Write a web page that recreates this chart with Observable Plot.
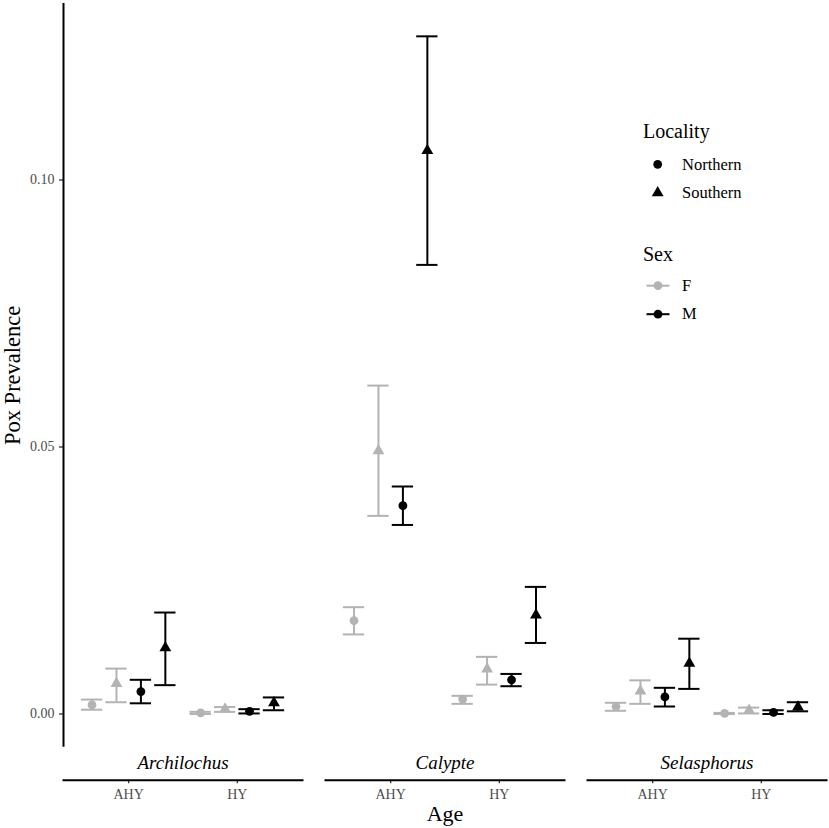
<!DOCTYPE html>
<html><head><meta charset="utf-8">
<script src="https://cdn.jsdelivr.net/npm/d3@7"></script>
<script src="https://cdn.jsdelivr.net/npm/@observablehq/plot@0.6"></script>
<style>
html,body{margin:0;padding:0;background:#fff;}
#wrap{position:relative;width:829px;height:828px;font-family:"Liberation Serif","Times New Roman",serif;}
#wrap > svg{display:block}
#legend{position:absolute;left:0;top:0;pointer-events:none;font-family:"Liberation Serif","Times New Roman",serif;}
</style></head><body><div id="wrap"></div>
<script>
const genera = ["Archilochus", "Calypte", "Selasphorus"];
const ages = ["AHY", "HY"];
const sexes = ["F", "M"];
const localities = ["Northern", "Southern"];
// order: genus > age > sex > locality  (F-N, F-S, M-N, M-S)
const estimate = [
  0.0017, 0.0057, 0.0042, 0.0124,   0.0002, 0.0009, 0.0005, 0.0021,
  0.0175, 0.0493, 0.0390, 0.1055,   0.0028, 0.0084, 0.0064, 0.0185,
  0.0014, 0.0043, 0.0032, 0.0095,   0.0001, 0.0007, 0.0003, 0.0013
];
const lower = [
  0.0008, 0.0022, 0.0020, 0.0054,   0.0000, 0.0004, 0.0001, 0.0007,
  0.0149, 0.0371, 0.0354, 0.0841,   0.0019, 0.0055, 0.0052, 0.0133,
  0.0006, 0.0019, 0.0014, 0.0047,   0.0000, 0.0001, 0.0000, 0.0005
];
const upper = [
  0.0027, 0.0085, 0.0064, 0.0190,   0.0004, 0.0013, 0.0009, 0.0031,
  0.0200, 0.0615, 0.0426, 0.1269,   0.0034, 0.0107, 0.0075, 0.0238,
  0.0021, 0.0063, 0.0049, 0.0141,   0.0002, 0.0012, 0.0007, 0.0022
];
const yTicks = [0, 0.05, 0.10];

const dodgeStep = 0.225;   // dodge width 0.9 / 4 groups
const capHalf = 0.098;
const xDomain = [0.4, 2.6];

const rows = [];
let i = 0;
for (const g of genera)
  for (const [ai, a] of ages.entries())
    for (const [si, s] of sexes.entries())
      for (const [li, l] of localities.entries()) {
        const k = si * 2 + li;
        rows.push({genus: g, age: a, sex: s, locality: l,
          pos: ai + 1 + (k - 1.5) * dodgeStep,
          estimate: estimate[i], lower: lower[i], upper: upper[i]});
        i++;
      }

const grey = "#b3b3b3";
const serif = "'Liberation Serif', 'Times New Roman', serif";

const chart = Plot.plot({
  width: 829, height: 828,
  marginLeft: 62.7, marginRight: 2.3, marginTop: 3, marginBottom: 81.3,
  style: {fontFamily: serif, background: "white", color: "black"},
  fx: {domain: genera, paddingInner: 0.0895, paddingOuter: 0, label: null},
  x: {domain: xDomain},
  y: {domain: [-0.00622, 0.13305]},
  color: {domain: sexes, range: [grey, "#000000"]},
  symbol: {domain: localities, range: ["circle", "triangle"]},
  marks: [
    Plot.axisY({ticks: yTicks, tickFormat: d3.format(".2f"), tickSize: 4, tickPadding: 5,
      fontSize: 14, stroke: "#333333", fill: "#4d4d4d", strokeWidth: 1.3, label: null}),
    Plot.axisFx({anchor: "bottom", tickSize: 0, tickPadding: 8, fontSize: 19,
      fontStyle: "italic", fill: "black", label: null}),
    Plot.axisX({anchor: "bottom", ticks: [1, 2], tickFormat: d => ages[d - 1], tickSize: 3.5,
      tickPadding: 5.5, dy: 33, fontSize: 14, stroke: "#333333", fill: "#4d4d4d",
      strokeWidth: 1.3, label: null}),
    Plot.frame({anchor: "bottom", dy: 33, strokeWidth: 2, stroke: "black"}),
    Plot.ruleX([{genus: genera[0]}], {fx: "genus", x: () => xDomain[0], strokeWidth: 2, stroke: "black"}),
    Plot.text([{genus: genera[0], t: "Pox Prevalence"}], {fx: "genus", text: "t", frameAnchor: "left",
      textAnchor: "middle", lineAnchor: "middle", rotate: -90, dx: -51, fontSize: 22.5, fill: "black"}),
    Plot.text([{genus: genera[1], t: "Age"}], {fx: "genus", text: "t", frameAnchor: "bottom",
      textAnchor: "middle", lineAnchor: "middle", dy: 66.3, fontSize: 22, fill: "black"}),
    Plot.ruleX(rows, {fx: "genus", x: "pos", y1: "lower", y2: "upper", stroke: "sex", strokeWidth: 2}),
    Plot.ruleY(rows, {fx: "genus", x1: d => d.pos - capHalf, x2: d => d.pos + capHalf, y: "upper", stroke: "sex", strokeWidth: 2}),
    Plot.ruleY(rows, {fx: "genus", x1: d => d.pos - capHalf, x2: d => d.pos + capHalf, y: "lower", stroke: "sex", strokeWidth: 2}),
    Plot.dot(rows, {fx: "genus", x: "pos", y: "estimate", symbol: "locality", fill: "sex", stroke: "none", r: 4.4})
  ]
});
const wrap = document.getElementById("wrap");
wrap.appendChild(chart);

// Legend (inside plot area, top right)
const lg = d3.select(wrap).append("svg").attr("id", "legend").attr("width", 829).attr("height", 828)
  .attr("font-family", serif);
lg.append("text").attr("x", 643).attr("y", 137.5).attr("font-size", 20).text("Locality");
const symGen = {Northern: d3.symbolCircle, Southern: d3.symbolTriangle};
localities.forEach((l, j) => {
  const cy = 164.3 + j * 28.5;
  lg.append("path").attr("transform", `translate(657.7,${cy})`)
    .attr("d", d3.symbol(symGen[l], Math.PI * 4.4 * 4.4)()).attr("fill", "black");
  lg.append("text").attr("x", 682).attr("y", cy).attr("dy", "0.32em").attr("font-size", 16.5).text(l);
});
lg.append("text").attr("x", 643).attr("y", 260.5).attr("font-size", 20).text("Sex");
sexes.forEach((s, j) => {
  const cy = 285.7 + j * 28.5;
  const c = s === "F" ? grey : "black";
  lg.append("line").attr("x1", 646.5).attr("x2", 669.5).attr("y1", cy).attr("y2", cy)
    .attr("stroke", c).attr("stroke-width", 2);
  lg.append("circle").attr("cx", 658).attr("cy", cy).attr("r", 4.4).attr("fill", c);
  lg.append("text").attr("x", 682).attr("y", cy).attr("dy", "0.32em").attr("font-size", 16.5).text(s);
});
</script></body></html>
